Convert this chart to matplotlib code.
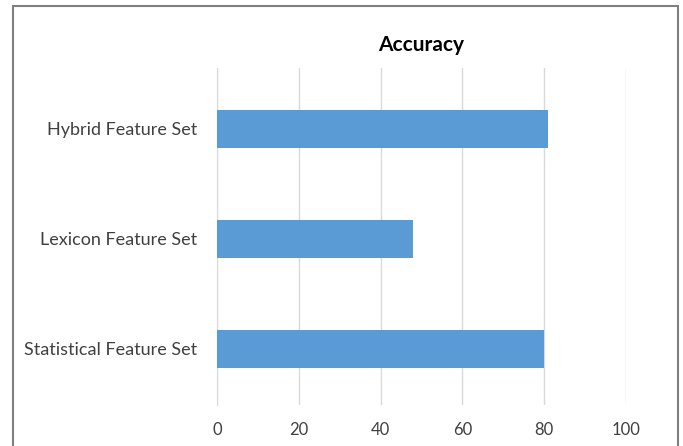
import matplotlib.pyplot as plt
from matplotlib.patches import Rectangle

# accuracy per feature set, bottom to top
feature_sets = ['Statistical Feature Set', 'Lexicon Feature Set', 'Hybrid Feature Set']
accuracy = [80, 48, 81]
xticks = [0, 20, 40, 60, 80, 100]

text_color = '#404040'
bar_color = '#5B9BD5'
grid_color = '#D9D9D9'

plt.rcParams['font.family'] = ['Lato', 'DejaVu Sans']

fig = plt.figure(figsize=(6.83, 4.46), dpi=100)
ax = fig.add_axes([217 / 683, 1 - 405 / 446, (626 - 217) / 683, (405 - 68) / 446])

ax.barh(range(len(feature_sets)), accuracy, height=0.345, color=bar_color, zorder=3)

ax.set_xlim(0, 100)
ax.set_ylim(-0.51, 2.55)
ax.set_xticks(xticks)
ax.set_xticklabels([str(t) for t in xticks], fontsize=12, color=text_color)
ax.set_yticks(range(len(feature_sets)))
ax.set_yticklabels(feature_sets, fontsize=13, color=text_color)
ax.tick_params(length=0, pad=12, axis='x')
ax.tick_params(length=0, pad=14, axis='y')

ax.grid(axis='x', color=grid_color, linewidth=1, zorder=0)
for side in ['top', 'right', 'bottom']:
    ax.spines[side].set_visible(False)
ax.spines['left'].set_color(grid_color)

ax.set_title('Accuracy', fontsize=15, fontweight='bold', color='#000000', pad=12)

# chart frame, cut off at the bottom edge
frame = Rectangle((13 / 683, -0.05), (678 - 13) / 683, 1 - 6 / 446 + 0.05,
                  transform=fig.transFigure, fill=False, edgecolor='#7F7F7F',
                  linewidth=1.5, clip_on=False)
fig.patches.append(frame)

plt.savefig('out.png', format='png')
